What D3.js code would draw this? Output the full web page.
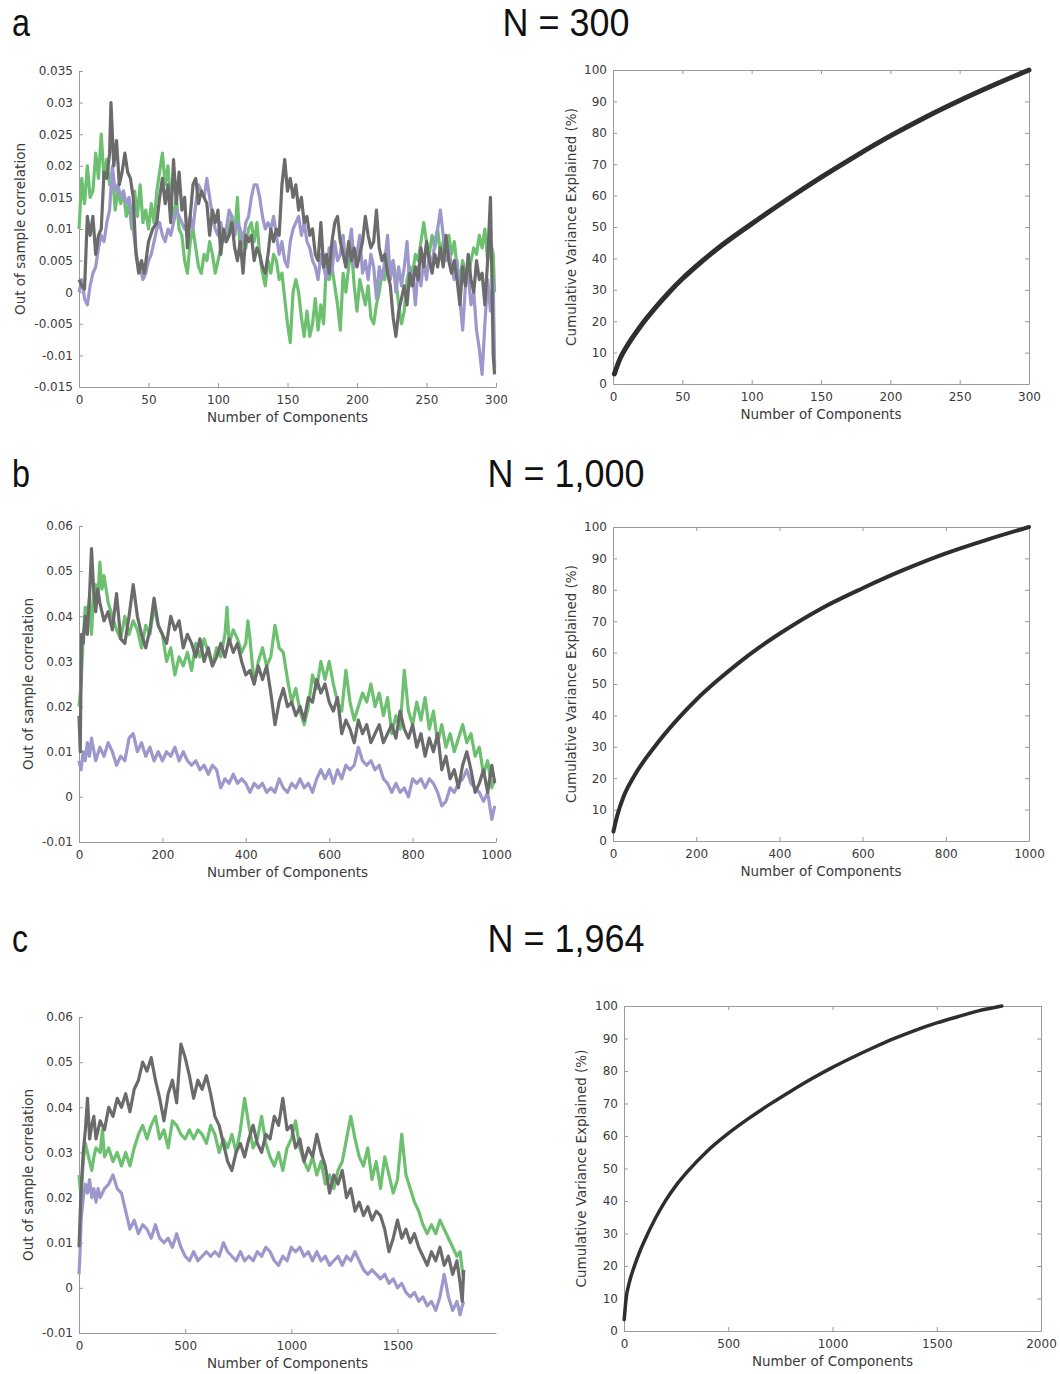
<!DOCTYPE html>
<html>
<head>
<meta charset="utf-8">
<script src="https://cdn.jsdelivr.net/npm/d3@7"></script>
<style>
  body { margin: 0; background: #fff; }
  svg { display: block; }
  .tick text { font-family: "DejaVu Sans", sans-serif; font-size: 12px; fill: #3a3a3a; }
  .axis-title { font-family: "DejaVu Sans", sans-serif; font-size: 13.5px; fill: #3a3a3a; }
  .panel-title { font-family: "Liberation Sans Narrow", "Arial Narrow", "Liberation Sans", sans-serif; font-size: 38px; fill: #111; }
</style>
</head>
<body>
<svg width="1060" height="1374"></svg>
<script>
// Panel titles
var panelLetters = ["a", "b", "c"];
var panelTitles = ["N = 300", "N = 1,000", "N = 1,964"];

// Out of sample correlation, [component, correlation]
// panel a (N = 300)
var corrA_green = [[0,.010],[2,.018],[4,.014],[6,.020],[8,.015],[10,.016],[12,.022],[14,.018],[16,.025],[18,.018],[20,.021],[22,.017],[24,.019],[26,.013],[28,.016],[30,.014],[32,.016],[34,.012],[36,.014],[38,.010],[40,.016],[42,.012],[44,.017],[46,.011],[48,.013],[50,.010],[52,.014],[54,.011],[56,.016],[58,.019],[60,.022],[62,.017],[64,.020],[66,.014],[68,.012],[70,.015],[72,.010],[74,.009],[76,.005],[78,.003],[80,.008],[82,.010],[84,.007],[86,.004],[88,.003],[90,.006],[92,.005],[94,.008],[96,.006],[98,.003],[100,.005],[102,.007],[104,.009],[106,.008],[108,.010],[110,.012],[112,.009],[114,.015],[116,.006],[118,.009],[120,.007],[122,.010],[124,.011],[126,.008],[128,.011],[130,.006],[132,.003],[134,.001],[136,.005],[138,.003],[140,.006],[142,.005],[144,.002],[146,.003],[148,-.001],[150,-.005],[152,-.008],[154,.000],[156,.002],[158,.000],[160,-.004],[162,-.007],[164,-.003],[166,-.007],[168,-.005],[170,-.001],[172,-.006],[174,-.002],[176,-.005],[178,.005],[180,.002],[182,.004],[184,.001],[186,-.002],[188,-.006],[190,.003],[192,.000],[194,.004],[196,.007],[198,.001],[200,-.003],[202,.002],[204,.000],[206,-.002],[208,.001],[210,-.004],[212,-.005],[214,-.002],[216,.000],[218,.003],[220,.002],[222,.006],[224,.003],[226,.005],[228,.002],[230,-.002],[232,-.005],[234,-.003],[236,.002],[238,.004],[240,.003],[242,.006],[244,.005],[246,.008],[248,.011],[250,.008],[252,.006],[254,.009],[256,.007],[258,.010],[260,.006],[262,.008],[264,.005],[266,.009],[268,.006],[270,.008],[272,.004],[274,.002],[276,.005],[278,.003],[280,.002],[282,.005],[284,.007],[286,.006],[288,.009],[290,.007],[292,.010],[294,.005],[296,.008],[298,.006],[299,.000]];
var corrA_purple = [[0,.000],[2,.002],[4,-.001],[6,-.002],[8,.001],[10,.003],[12,.004],[14,.007],[16,.009],[18,.008],[20,.011],[22,.013],[24,.020],[26,.016],[28,.017],[30,.015],[32,.016],[34,.014],[36,.015],[38,.012],[40,.008],[42,.005],[44,.004],[46,.002],[48,.003],[50,.005],[52,.006],[54,.008],[56,.010],[58,.011],[60,.009],[62,.008],[64,.010],[66,.009],[68,.011],[70,.013],[72,.012],[74,.011],[76,.010],[78,.011],[80,.012],[82,.010],[84,.014],[86,.017],[88,.016],[90,.015],[92,.018],[94,.015],[96,.012],[98,.010],[100,.009],[102,.011],[104,.008],[106,.010],[108,.013],[110,.012],[112,.009],[114,.011],[116,.010],[118,.008],[120,.011],[122,.012],[124,.015],[126,.017],[128,.017],[130,.015],[132,.012],[134,.010],[136,.011],[138,.010],[140,.012],[142,.009],[144,.006],[146,.008],[148,.005],[150,.004],[152,.008],[154,.010],[156,.011],[158,.012],[160,.009],[162,.011],[164,.008],[166,.007],[168,.005],[170,.004],[172,.002],[174,.006],[176,.004],[178,.002],[180,.007],[182,.003],[184,.008],[186,.005],[188,.006],[190,.009],[192,.004],[194,.007],[196,.010],[198,.004],[200,.006],[202,.009],[204,.003],[206,.005],[208,.002],[210,.006],[212,.004],[214,-.001],[216,.004],[218,.002],[220,.005],[222,.009],[224,.002],[226,.005],[228,.000],[230,.004],[232,.001],[234,.004],[236,.008],[238,.001],[240,.003],[242,-.002],[244,.004],[246,.001],[248,.005],[250,.002],[252,.006],[254,.004],[256,.008],[258,.010],[260,.013],[262,.009],[264,.005],[266,.007],[268,.004],[270,.002],[272,.005],[274,-.001],[276,-.006],[278,.001],[280,.003],[282,-.002],[284,.000],[286,-.006],[288,-.009],[290,-.013],[292,-.005],[294,.002],[296,-.003],[298,.002],[299,-.012]];
var corrA_gray = [[0,.002],[2,.001],[4,.0005],[6,.012],[8,.009],[10,.012],[12,.006],[14,.009],[16,.010],[18,.019],[20,.018],[22,.022],[23,.030],[25,.020],[27,.024],[29,.017],[31,.019],[33,.022],[35,.019],[37,.018],[39,.015],[41,.006],[43,.003],[45,.005],[47,.003],[50,.008],[53,.010],[56,.011],[58,.015],[60,.018],[62,.014],[64,.017],[66,.011],[68,.021],[70,.014],[72,.019],[74,.013],[76,.015],[78,.007],[80,.012],[82,.017],[84,.018],[86,.014],[88,.016],[90,.015],[92,.014],[94,.009],[96,.013],[98,.011],[100,.013],[102,.006],[104,.010],[106,.008],[108,.009],[110,.011],[112,.007],[114,.005],[116,.008],[118,.003],[120,.009],[122,.008],[124,.009],[126,.005],[128,.007],[130,.006],[132,.004],[134,.003],[136,.006],[138,.010],[140,.008],[142,.010],[144,.009],[146,.017],[148,.021],[150,.016],[152,.018],[154,.015],[156,.017],[158,.013],[160,.015],[162,.011],[164,.012],[166,.009],[168,.010],[170,.006],[172,.005],[174,.011],[176,.004],[178,.006],[180,.003],[182,.008],[184,.011],[186,.012],[188,.008],[190,.006],[192,.004],[194,.008],[196,.005],[198,.007],[200,.004],[202,.006],[204,.008],[206,.012],[208,.009],[210,.007],[212,.008],[214,.013],[216,.007],[218,.005],[220,.006],[222,.003],[224,.001],[226,-.004],[228,-.007],[230,-.003],[232,-.001],[234,.001],[236,-.002],[238,.003],[240,.001],[242,.004],[244,.002],[246,.007],[248,.004],[250,.008],[252,.005],[254,.003],[256,.006],[258,.004],[260,.007],[262,.004],[264,.009],[266,.005],[268,.003],[270,.005],[272,.002],[274,-.002],[276,.004],[278,.001],[280,.006],[282,.002],[284,.000],[286,.005],[288,.002],[290,.003],[292,-.002],[294,.005],[296,.015],[297,.003],[298,-.010],[299,-.013]];

// panel b (N = 1,000)
var corrB_green = [[0,.020],[5,.025],[10,.035],[15,.042],[20,.040],[25,.044],[30,.036],[35,.045],[40,.047],[45,.043],[50,.052],[55,.046],[60,.049],[70,.043],[80,.040],[90,.037],[100,.035],[110,.040],[120,.036],[130,.039],[140,.037],[150,.033],[160,.038],[170,.036],[180,.042],[190,.038],[200,.036],[210,.030],[220,.033],[230,.027],[240,.031],[250,.029],[260,.032],[270,.028],[280,.034],[290,.031],[300,.035],[310,.032],[320,.029],[330,.033],[340,.031],[350,.036],[355,.042],[360,.034],[370,.037],[380,.035],[390,.032],[400,.034],[405,.039],[410,.035],[420,.025],[430,.030],[440,.033],[450,.029],[460,.031],[470,.038],[480,.033],[490,.032],[500,.026],[510,.021],[520,.024],[530,.019],[540,.016],[550,.020],[560,.027],[570,.024],[580,.030],[590,.026],[600,.030],[610,.025],[620,.021],[630,.019],[640,.028],[650,.021],[660,.017],[670,.020],[680,.023],[690,.021],[700,.025],[710,.020],[720,.023],[730,.018],[740,.022],[750,.014],[760,.018],[770,.015],[780,.028],[790,.019],[800,.016],[810,.021],[820,.017],[830,.022],[840,.015],[850,.019],[860,.012],[870,.016],[880,.011],[890,.014],[900,.010],[910,.013],[920,.016],[930,.012],[940,.014],[950,.009],[960,.011],[970,.005],[980,.008],[990,.002],[997,.004]];
var corrB_purple = [[0,.008],[5,.006],[10,.010],[15,.008],[20,.012],[25,.009],[30,.013],[40,.008],[50,.011],[60,.009],[70,.012],[80,.010],[90,.007],[100,.009],[110,.008],[120,.013],[130,.014],[140,.010],[150,.012],[160,.009],[170,.011],[180,.008],[190,.010],[200,.008],[210,.010],[220,.009],[230,.011],[240,.008],[250,.010],[260,.008],[270,.007],[280,.008],[290,.006],[300,.007],[310,.005],[320,.007],[330,.006],[340,.002],[350,.004],[360,.003],[370,.005],[380,.003],[390,.004],[400,.003],[410,.001],[420,.003],[430,.002],[440,.003],[450,.001],[460,.002],[470,.001],[480,.004],[490,.002],[500,.001],[510,.003],[520,.002],[530,.004],[540,.002],[550,.003],[560,.001],[570,.004],[580,.006],[590,.004],[600,.006],[610,.003],[620,.006],[630,.004],[640,.007],[650,.006],[660,.007],[670,.011],[680,.008],[690,.007],[700,.008],[710,.006],[720,.007],[730,.004],[740,.003],[750,.001],[760,.003],[770,.001],[780,.002],[790,.000],[800,.004],[810,.003],[820,.004],[830,.002],[840,.004],[850,.003],[860,.001],[870,-.002],[880,-.001],[890,.002],[900,.001],[910,.003],[920,.004],[930,.006],[940,.003],[950,.002],[960,.001],[970,-.001],[980,.001],[990,-.005],[997,-.002]];
var corrB_gray = [[0,.018],[3,.010],[6,.036],[10,.034],[15,.040],[20,.036],[25,.044],[30,.055],[35,.046],[40,.041],[45,.046],[50,.043],[60,.039],[70,.041],[80,.037],[90,.045],[100,.035],[110,.034],[120,.040],[130,.047],[140,.040],[150,.036],[160,.033],[170,.037],[180,.044],[190,.038],[200,.036],[210,.034],[220,.040],[230,.037],[240,.039],[250,.033],[260,.036],[270,.034],[280,.031],[290,.035],[300,.030],[310,.033],[320,.029],[330,.031],[340,.034],[350,.031],[360,.035],[370,.032],[380,.034],[390,.030],[400,.027],[410,.028],[420,.025],[430,.029],[440,.026],[450,.029],[460,.023],[470,.016],[480,.021],[490,.024],[500,.020],[510,.021],[520,.018],[530,.020],[540,.017],[550,.022],[560,.021],[570,.026],[580,.023],[590,.025],[600,.021],[610,.019],[620,.022],[630,.014],[640,.017],[650,.015],[660,.012],[670,.017],[680,.014],[690,.016],[700,.012],[710,.014],[720,.016],[730,.012],[740,.014],[750,.016],[760,.013],[770,.019],[780,.015],[790,.013],[800,.016],[810,.011],[820,.014],[830,.009],[840,.013],[850,.010],[860,.014],[870,.006],[880,.009],[890,.004],[900,.006],[910,.002],[920,.007],[930,.010],[940,.006],[950,.001],[960,.003],[970,.006],[980,.001],[990,.007],[997,.003]];

// panel c (N = 1,964)
var corrC_green = [[0,.025],[10,.020],[20,.028],[30,.032],[40,.030],[50,.028],[60,.026],[70,.029],[80,.031],[100,.030],[110,.035],[120,.029],[140,.031],[160,.028],[180,.030],[200,.027],[220,.030],[240,.027],[260,.031],[280,.034],[300,.036],[320,.033],[340,.036],[360,.038],[380,.033],[400,.035],[420,.031],[440,.037],[460,.036],[480,.034],[500,.033],[520,.035],[540,.033],[560,.035],[580,.034],[600,.032],[620,.036],[640,.034],[660,.030],[680,.033],[700,.031],[720,.034],[740,.030],[760,.035],[780,.042],[800,.036],[820,.031],[840,.033],[860,.038],[880,.032],[900,.029],[920,.027],[940,.030],[960,.026],[980,.031],[1000,.033],[1020,.037],[1040,.031],[1060,.028],[1080,.026],[1100,.029],[1120,.025],[1140,.028],[1160,.023],[1180,.025],[1200,.022],[1220,.026],[1240,.028],[1260,.033],[1280,.038],[1300,.033],[1320,.029],[1340,.027],[1360,.031],[1380,.024],[1400,.028],[1420,.022],[1440,.029],[1460,.025],[1480,.021],[1500,.024],[1520,.034],[1540,.025],[1560,.022],[1580,.019],[1600,.017],[1620,.014],[1640,.012],[1660,.014],[1680,.012],[1700,.015],[1720,.013],[1740,.011],[1760,.009],[1780,.007],[1795,.008],[1805,.004],[1812,.002]];
var corrC_purple = [[0,.003],[5,.008],[10,.015],[20,.020],[30,.023],[40,.021],[50,.024],[60,.020],[70,.022],[80,.019],[90,.022],[100,.020],[120,.022],[140,.023],[160,.025],[180,.022],[200,.021],[220,.017],[240,.013],[260,.015],[280,.012],[300,.014],[320,.013],[340,.011],[360,.014],[380,.011],[400,.010],[420,.011],[440,.009],[460,.012],[480,.009],[500,.007],[520,.006],[540,.008],[560,.006],[580,.007],[600,.008],[620,.007],[640,.008],[660,.007],[680,.010],[700,.008],[720,.007],[740,.006],[760,.008],[780,.006],[800,.007],[820,.006],[840,.008],[860,.007],[880,.009],[900,.008],[920,.006],[940,.005],[960,.007],[980,.006],[1000,.009],[1020,.008],[1040,.009],[1060,.007],[1080,.008],[1100,.006],[1120,.008],[1140,.006],[1160,.007],[1180,.005],[1200,.006],[1220,.007],[1240,.005],[1260,.007],[1280,.006],[1300,.008],[1320,.006],[1340,.004],[1360,.003],[1380,.004],[1400,.003],[1420,.002],[1440,.003],[1460,.001],[1480,.002],[1500,.000],[1520,.001],[1540,-.001],[1560,-.002],[1580,-.001],[1600,-.003],[1620,-.002],[1640,-.004],[1660,-.003],[1680,-.005],[1700,-.002],[1720,.003],[1740,-.002],[1760,-.005],[1780,-.003],[1795,-.006],[1805,-.004],[1812,-.003]];
var corrC_gray = [[0,.009],[10,.022],[20,.030],[30,.035],[40,.042],[50,.033],[60,.036],[70,.038],[80,.033],[100,.037],[120,.035],[140,.040],[160,.038],[180,.042],[200,.040],[220,.043],[240,.039],[260,.044],[280,.046],[300,.050],[320,.048],[340,.051],[360,.046],[380,.042],[400,.037],[420,.043],[440,.046],[460,.041],[480,.054],[500,.051],[520,.047],[540,.042],[560,.046],[580,.044],[600,.047],[620,.043],[640,.038],[660,.036],[680,.032],[700,.028],[720,.026],[740,.030],[760,.032],[780,.029],[800,.033],[820,.036],[840,.032],[860,.030],[880,.034],[900,.033],[920,.038],[940,.036],[960,.042],[980,.035],[1000,.036],[1020,.031],[1040,.033],[1060,.028],[1080,.031],[1100,.029],[1120,.034],[1140,.030],[1160,.027],[1180,.021],[1200,.025],[1220,.023],[1240,.026],[1260,.020],[1280,.022],[1300,.017],[1320,.019],[1340,.016],[1360,.018],[1380,.015],[1400,.017],[1420,.016],[1440,.013],[1460,.008],[1480,.011],[1500,.015],[1520,.011],[1540,.013],[1560,.010],[1580,.012],[1600,.009],[1620,.007],[1640,.005],[1660,.008],[1680,.006],[1700,.009],[1720,.005],[1740,.007],[1760,.003],[1780,.006],[1795,.001],[1805,-.003],[1812,.004]];

// Cumulative variance explained (%), [component, percent]
var varA = [[1,3.2],[5,8],[10,12],[20,18.5],[30,24],[40,29],[50,33.5],[60,37.5],[75,43],[100,51],[125,58.6],[150,65.8],[175,72.6],[200,79],[225,84.9],[250,90.3],[275,95.3],[300,100]];
var varB = [[1,3],[10,8],[25,14],[50,20.5],[100,30],[150,38],[200,45],[250,51],[300,56.5],[350,61.5],[400,66],[500,74],[600,80.5],[700,86.4],[800,91.6],[900,96],[1000,100]];
var varC = [[1,3.5],[10,10],[25,14.8],[50,20],[75,24.3],[100,28],[150,34.6],[200,40.2],[250,44.8],[300,48.7],[400,55.4],[500,60.8],[600,65.5],[700,69.8],[800,73.8],[900,77.6],[1000,81.1],[1100,84.3],[1200,87.3],[1300,90.1],[1400,92.6],[1500,94.8],[1600,96.7],[1700,98.5],[1812,100]];

// Tick values
var corrTicksA = [-0.015, -0.01, -0.005, 0, 0.005, 0.01, 0.015, 0.02, 0.025, 0.03, 0.035];
var corrTicksBC = [-0.01, 0, 0.01, 0.02, 0.03, 0.04, 0.05, 0.06];
var compTicksA = [0, 50, 100, 150, 200, 250, 300];
var compTicksB = [0, 200, 400, 600, 800, 1000];
var compTicksC = [0, 500, 1000, 1500];
var compTicksC2 = [0, 500, 1000, 1500, 2000];
var pctTicks = [0, 10, 20, 30, 40, 50, 60, 70, 80, 90, 100];

var seriesColors = { green: "#6cc070", purple: "#9c98cc", gray: "#6b6b6b" };

var svg = d3.select("svg");
var axisColor = "#9a9a9a";

function fmt(d) { return String(+d.toFixed(3)); }

// Style axis: light gray domain/ticks, inward ticks
function styleAxis(sel) {
    sel.select(".domain").attr("stroke", axisColor);
    sel.selectAll(".tick line").attr("stroke", axisColor);
}

// Left panels: correlation lines (no box)
function drawCorrPanel(p) {
    var x = d3.scaleLinear().domain(p.xDomain).range([p.left, p.right]);
    var y = d3.scaleLinear().domain(p.yDomain).range([p.bottom, p.top]);
    var g = svg.append("g");

    g.append("g")
        .attr("transform", "translate(0," + p.bottom + ")")
        .call(d3.axisBottom(x).tickValues(p.xTicks).tickFormat(fmt).tickSizeInner(-4).tickSizeOuter(0).tickPadding(8))
        .call(styleAxis);
    g.append("g")
        .attr("transform", "translate(" + p.left + ",0)")
        .call(d3.axisLeft(y).tickValues(p.yTicks).tickFormat(fmt).tickSizeInner(-4).tickSizeOuter(0).tickPadding(6))
        .call(styleAxis);

    var line = d3.line()
        .x(function (d) { return x(d[0]); })
        .y(function (d) { return y(d[1]); });

    p.series.forEach(function (s) {
        g.append("path")
            .datum(s.data)
            .attr("fill", "none")
            .attr("stroke", s.color)
            .attr("stroke-width", 3.2)
            .attr("stroke-linejoin", "round")
            .attr("d", line);
    });

    g.append("text").attr("class", "axis-title")
        .attr("x", (p.left + p.right) / 2).attr("y", p.bottom + 35)
        .attr("text-anchor", "middle").text("Number of Components");
    g.append("text").attr("class", "axis-title")
        .attr("transform", "translate(" + p.yLabelX + "," + (p.top + p.bottom) / 2 + ") rotate(-90)")
        .attr("text-anchor", "middle").text("Out of sample correlation");
}

// Right panels: cumulative variance curve (boxed)
function drawVarPanel(p) {
    var x = d3.scaleLinear().domain(p.xDomain).range([p.left, p.right]);
    var y = d3.scaleLinear().domain([0, 100]).range([p.bottom, p.top]);
    var g = svg.append("g");

    g.append("g")
        .attr("transform", "translate(0," + p.bottom + ")")
        .call(d3.axisBottom(x).tickValues(p.xTicks).tickFormat(fmt).tickSizeInner(-4).tickSizeOuter(0).tickPadding(8))
        .call(styleAxis);
    g.append("g")
        .attr("transform", "translate(0," + p.top + ")")
        .call(d3.axisTop(x).tickValues(p.xTicks).tickSizeInner(-4).tickSizeOuter(0).tickFormat(""))
        .call(styleAxis);
    g.append("g")
        .attr("transform", "translate(" + p.left + ",0)")
        .call(d3.axisLeft(y).tickValues(pctTicks).tickSizeInner(-4).tickSizeOuter(0).tickPadding(6))
        .call(styleAxis);
    g.append("g")
        .attr("transform", "translate(" + p.right + ",0)")
        .call(d3.axisRight(y).tickValues(pctTicks).tickSizeInner(-4).tickSizeOuter(0).tickFormat(""))
        .call(styleAxis);

    g.append("path")
        .datum(p.data)
        .attr("fill", "none")
        .attr("stroke", "#2e2e2e")
        .attr("stroke-width", p.width)
        .attr("stroke-linecap", "round")
        .attr("d", d3.line()
            .x(function (d) { return x(d[0]); })
            .y(function (d) { return y(d[1]); })
            .curve(d3.curveMonotoneX));

    g.append("text").attr("class", "axis-title")
        .attr("x", (p.left + p.right) / 2).attr("y", p.bottom + 35)
        .attr("text-anchor", "middle").text("Number of Components");
    g.append("text").attr("class", "axis-title")
        .attr("transform", "translate(" + p.yLabelX + "," + (p.top + p.bottom) / 2 + ") rotate(-90)")
        .attr("text-anchor", "middle").text("Cumulative Variance Explained (%)");
}

var rows = [
    { top: 71, bottom: 387, titleY: 36,
      corr: [corrA_green, corrA_purple, corrA_gray], corrX: [0, 300], corrY: [-0.015, 0.035],
      corrXTicks: compTicksA, corrYTicks: corrTicksA, corrLabelX: 25,
      vTop: 70, vBottom: 384, vLeft: 613, vRight: 1029, vX: [0, 300], vXTicks: compTicksA, vData: varA, vWidth: 5, vLabelX: 576 },
    { top: 526, bottom: 842, titleY: 487,
      corr: [corrB_green, corrB_purple, corrB_gray], corrX: [0, 1000], corrY: [-0.01, 0.06],
      corrXTicks: compTicksB, corrYTicks: corrTicksBC, corrLabelX: 33,
      vTop: 527, vBottom: 841, vLeft: 613, vRight: 1029, vX: [0, 1000], vXTicks: compTicksB, vData: varB, vWidth: 4, vLabelX: 576 },
    { top: 1017, bottom: 1333, titleY: 952,
      corr: [corrC_green, corrC_purple, corrC_gray], corrX: [0, 1964], corrY: [-0.01, 0.06],
      corrXTicks: compTicksC, corrYTicks: corrTicksBC, corrLabelX: 33,
      vTop: 1006, vBottom: 1331, vLeft: 624, vRight: 1041, vX: [0, 2000], vXTicks: compTicksC2, vData: varC, vWidth: 3.5, vLabelX: 586 }
];

// Title widths (narrow display face in the original)
var titleWidths = [127, 157, 157];
var letterWidths = [18, 18, 16];

rows.forEach(function (r, i) {
    drawCorrPanel({
        left: 79, right: 496, top: r.top, bottom: r.bottom,
        xDomain: r.corrX, yDomain: r.corrY, xTicks: r.corrXTicks, yTicks: r.corrYTicks,
        yLabelX: r.corrLabelX,
        series: [
            { data: r.corr[0], color: seriesColors.green },
            { data: r.corr[1], color: seriesColors.purple },
            { data: r.corr[2], color: seriesColors.gray }
        ]
    });
    drawVarPanel({
        left: r.vLeft, right: r.vRight, top: r.vTop, bottom: r.vBottom,
        xDomain: r.vX, xTicks: r.vXTicks, data: r.vData, width: r.vWidth, yLabelX: r.vLabelX
    });

    svg.append("text").attr("class", "panel-title")
        .attr("x", 12).attr("y", r.titleY)
        .attr("textLength", letterWidths[i]).attr("lengthAdjust", "spacingAndGlyphs")
        .text(panelLetters[i]);
    svg.append("text").attr("class", "panel-title")
        .attr("x", 566 - titleWidths[i] / 2).attr("y", r.titleY)
        .attr("textLength", titleWidths[i]).attr("lengthAdjust", "spacingAndGlyphs")
        .text(panelTitles[i]);
});
</script>
</body>
</html>
